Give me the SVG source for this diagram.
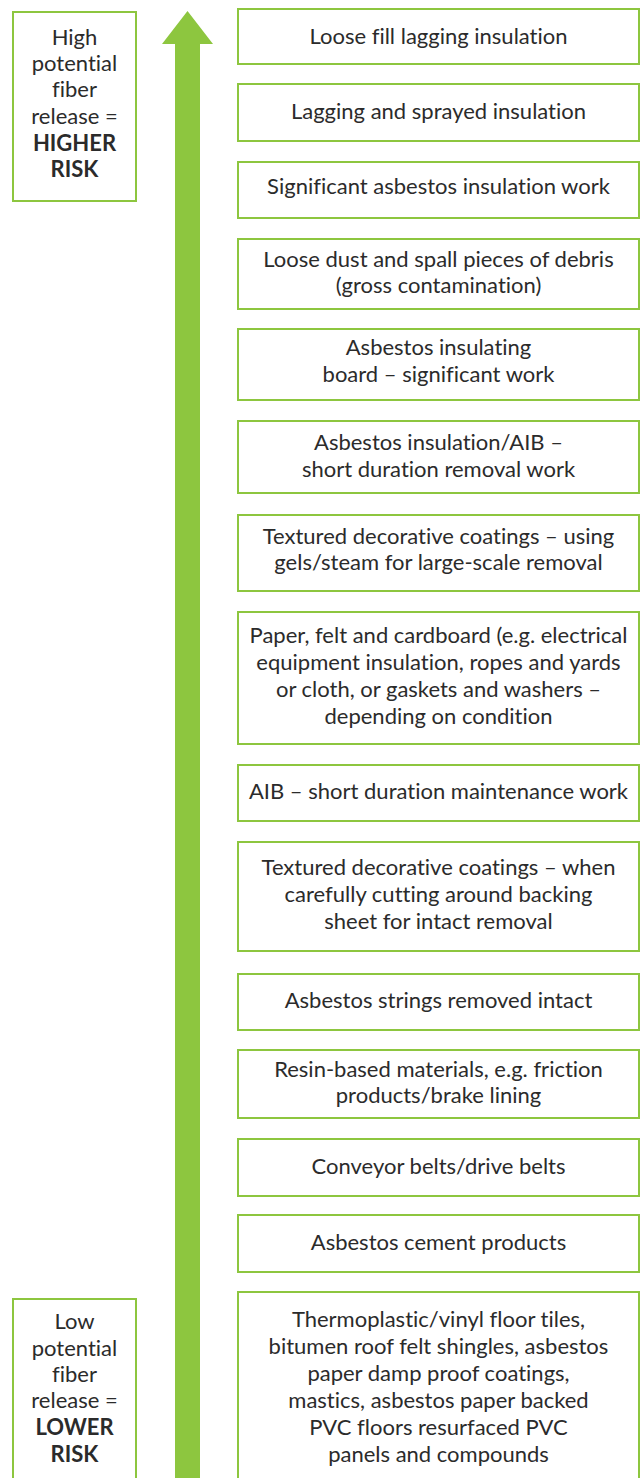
<svg xmlns="http://www.w3.org/2000/svg" width="641" height="1478" viewBox="0 0 641 1478">
<style>
.box{fill:#ffffff;stroke:#8dc63f;stroke-width:2}
.t{font-family:Lato,"Open Sans","Liberation Sans",sans-serif;font-size:22px;fill:#2b2b2b;text-anchor:middle;font-variant-ligatures:no-common-ligatures}
.b{font-weight:bold}
</style>
<rect x="0" y="0" width="641" height="1478" fill="#ffffff"/>
<g id="connectors">
<polygon points="187.5,11 213,44 200,44 200,1478 175,1478 175,44 162,44" fill="#8dc63f"/>
</g>
<g id="high">
<rect class="box" x="13" y="12" width="123" height="189"/>
<text class="t" x="74.5" y="45">High</text>
<text class="t" x="74.5" y="71">potential</text>
<text class="t" x="74.5" y="97">fiber</text>
<text class="t" x="74.5" y="124">release =</text>
<text class="t b" x="74.5" y="151">HIGHER</text>
<text class="t b" x="74.5" y="177">RISK</text>
</g>
<g id="low">
<rect class="box" x="13" y="1299" width="123" height="200"/>
<text class="t" x="74.5" y="1329">Low</text>
<text class="t" x="74.5" y="1356">potential</text>
<text class="t" x="74.5" y="1382">fiber</text>
<text class="t" x="74.5" y="1408">release =</text>
<text class="t b" x="74.5" y="1435">LOWER</text>
<text class="t b" x="74.5" y="1462">RISK</text>
</g>
<g id="n1"><rect class="box" x="238" y="9" width="401" height="55"/>
<text class="t" x="438.5" y="44">Loose fill lagging insulation</text></g>
<g id="n2"><rect class="box" x="238" y="84" width="401" height="57"/>
<text class="t" x="438.5" y="119">Lagging and sprayed insulation</text></g>
<g id="n3"><rect class="box" x="238" y="162" width="401" height="56"/>
<text class="t" x="438.5" y="194">Significant asbestos insulation work</text></g>
<g id="n4"><rect class="box" x="238" y="239" width="401" height="70"/>
<text class="t" x="438.5" y="267">Loose dust and spall pieces of debris</text>
<text class="t" x="438.5" y="293">(gross contamination)</text></g>
<g id="n5"><rect class="box" x="238" y="329" width="401" height="71"/>
<text class="t" x="438.5" y="355">Asbestos insulating</text>
<text class="t" x="438.5" y="382">board – significant work</text></g>
<g id="n6"><rect class="box" x="238" y="421" width="401" height="72"/>
<text class="t" x="438.5" y="450">Asbestos insulation/AIB –</text>
<text class="t" x="438.5" y="477">short duration removal work</text></g>
<g id="n7"><rect class="box" x="238" y="515" width="401" height="76"/>
<text class="t" x="438.5" y="544">Textured decorative coatings – using</text>
<text class="t" x="438.5" y="570">gels/steam for large-scale removal</text></g>
<g id="n8"><rect class="box" x="238" y="612" width="401" height="132"/>
<text class="t" x="438.5" y="643">Paper, felt and cardboard (e.g. electrical</text>
<text class="t" x="438.5" y="670">equipment insulation, ropes and yards</text>
<text class="t" x="438.5" y="697">or cloth, or gaskets and washers –</text>
<text class="t" x="438.5" y="724">depending on condition</text></g>
<g id="n9"><rect class="box" x="238" y="765" width="401" height="56"/>
<text class="t" x="438.5" y="799">AIB – short duration maintenance work</text></g>
<g id="n10"><rect class="box" x="238" y="842" width="401" height="109"/>
<text class="t" x="438.5" y="875">Textured decorative coatings – when</text>
<text class="t" x="438.5" y="902">carefully cutting around backing</text>
<text class="t" x="438.5" y="929">sheet for intact removal</text></g>
<g id="n11"><rect class="box" x="238" y="974" width="401" height="56"/>
<text class="t" x="438.5" y="1008">Asbestos strings removed intact</text></g>
<g id="n12"><rect class="box" x="238" y="1050" width="401" height="68"/>
<text class="t" x="438.5" y="1077">Resin-based materials, e.g. friction</text>
<text class="t" x="438.5" y="1103">products/brake lining</text></g>
<g id="n13"><rect class="box" x="238" y="1139" width="401" height="57"/>
<text class="t" x="438.5" y="1174">Conveyor belts/drive belts</text></g>
<g id="n14"><rect class="box" x="238" y="1215" width="401" height="57"/>
<text class="t" x="438.5" y="1250">Asbestos cement products</text></g>
<g id="n15"><rect class="box" x="238" y="1292" width="401" height="200"/>
<text class="t" x="438.5" y="1327">Thermoplastic/vinyl floor tiles,</text>
<text class="t" x="438.5" y="1354">bitumen roof felt shingles, asbestos</text>
<text class="t" x="438.5" y="1381">paper damp proof coatings,</text>
<text class="t" x="438.5" y="1408">mastics, asbestos paper backed</text>
<text class="t" x="438.5" y="1435">PVC floors resurfaced PVC</text>
<text class="t" x="438.5" y="1462">panels and compounds</text></g>
</svg>
